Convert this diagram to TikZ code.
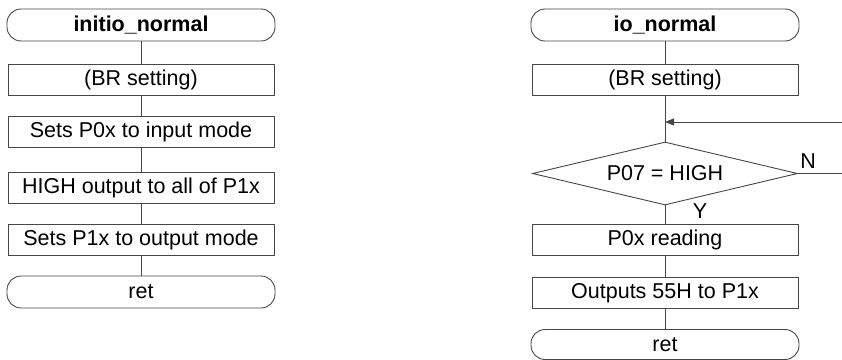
\documentclass[tikz,border=0pt]{standalone}
\usepackage{fontspec}
\setmainfont{Liberation Sans}
\usetikzlibrary{shapes.geometric,arrows.meta}
\definecolor{ln}{RGB}{70,70,70}
\begin{document}
\begin{tikzpicture}[x=1pt,y=-1pt,
  every node/.style={font=\fontsize{21.5}{25}\selectfont, inner sep=0pt},
  procbox/.style={draw=ln, line width=0.9pt, rectangle, minimum width=266pt, minimum height=31pt},
  termbox/.style={draw=ln, line width=0.9pt, rectangle, rounded corners=14pt, minimum width=268pt, minimum height=32pt},
  decbox/.style={draw=ln, line width=0.9pt, diamond, aspect=4.2, minimum width=265pt, minimum height=63pt},
  conn/.style={draw=ln, line width=0.9pt}]
\useasboundingbox (0,0) rectangle (842,359);
\clip (0,0) rectangle (842,359);
% left flowchart
\node[termbox] (t1) at (141,25) {\bfseries initio\_normal};
\node[procbox] (a1) at (141,80) {(BR setting)};
\node[procbox] (a2) at (141,132) {Sets P0x to input mode};
\node[procbox] (a3) at (141,188) {HIGH output to all of P1x};
\node[procbox] (a4) at (141,240) {Sets P1x to output mode};
\node[termbox] (r1) at (141,292) {ret};
\draw[conn] (t1) -- (a1);
\draw[conn] (a1) -- (a2);
\draw[conn] (a2) -- (a3);
\draw[conn] (a3) -- (a4);
\draw[conn] (a4) -- (r1);
% right flowchart
\node[termbox] (t2) at (665,25) {\bfseries io\_normal};
\node[procbox] (c1) at (665,80) {(BR setting)};
\coordinate (j) at (665,122);
\node[decbox] (d) at (665,173.5) {P07 = HIGH};
\node[procbox] (c2) at (665,240) {P0x reading};
\node[procbox] (c3) at (665,293) {Outputs 55H to P1x};
\node[termbox, minimum height=30pt] (r2) at (665,344.5) {ret};
\coordinate (lr) at (846,173.5);
\coordinate (ur) at (846,122);
\draw[conn] (t2) -- (c1);
\draw[conn] (c1) -- (d);
\draw[conn] (d) -- (c2);
\draw[conn] (c2) -- (c3);
\draw[conn] (c3) -- (r2);
\draw[conn, -{Triangle[length=9pt,width=7pt]}] (d.east) -- (lr) -- (ur) -- (j);
\node at (808,161) {N};
\node at (700,211) {Y};
\end{tikzpicture}
\end{document}
